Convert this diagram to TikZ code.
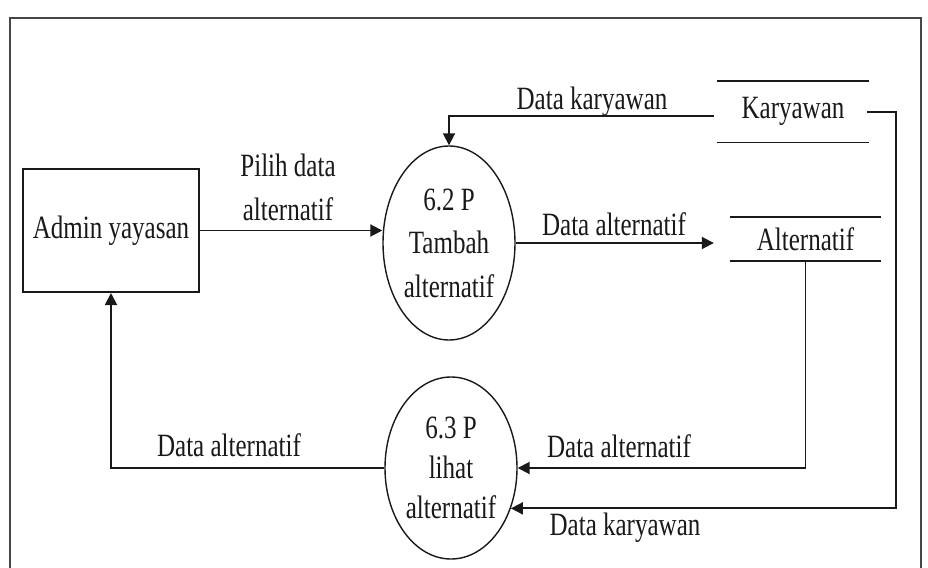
\documentclass[tikz,border=0pt]{standalone}
\usepackage{fontspec}
\setmainfont{Liberation Serif}[FakeStretch=0.77]
\usetikzlibrary{shapes.geometric,arrows.meta}
\definecolor{ink}{RGB}{25,25,25}
\definecolor{framegray}{RGB}{70,70,70}
\begin{document}
\begin{tikzpicture}[x=1pt,y=-1pt,
  txt/.style={font=\fontsize{32.5}{44}\selectfont, text=ink},
  lbl/.style={txt, align=center, inner sep=0pt},
  proc/.style={ellipse, draw=ink, line width=1.4pt, minimum width=132pt,
    inner sep=0pt, align=center, text=ink},
  entity/.style={rectangle, draw=ink, line width=2pt, minimum width=176pt,
    minimum height=123pt, txt},
  store/.style={inner sep=0pt, txt},
  storeline/.style={draw=ink, line width=1.9pt},
  flow/.style={draw=ink, line width=1.9pt, -{Triangle[length=12pt,width=12pt]}}
]
\useasboundingbox (0,0) rectangle (928,567);

% outer frame
\draw[line width=2pt, draw=framegray] (10,600) -- (10,18) -- (921,18) -- (921,600);

% external entity
\node[entity] (admin) at (111,230.5) {Admin yayasan};

% processes
\node[proc, minimum height=194pt, font=\fontsize{32.5}{43.5}\selectfont] (p62) at (449,243)
  {6.2 P\\Tambah\\alternatif};
\node[proc, minimum height=182pt, font=\fontsize{32.5}{40}\selectfont] (p63) at (451,468)
  {6.3 P\\lihat\\alternatif};

% data stores
\node[store, minimum width=152pt, minimum height=61pt] (ks) at (793,111.75) {Karyawan};
\draw[storeline] (ks.north west) -- (ks.north east);
\draw[storeline] (ks.south west) -- (ks.south east);

\node[store, minimum width=151pt, minimum height=44pt] (as) at (805.5,239) {Alternatif};
\draw[storeline] (as.north west) -- (as.north east);
\draw[storeline] (as.south west) -- (as.south east);

% data flows
\draw[flow] (admin.east) -- (admin.east -| p62.west);
\draw[flow] ([shift={(-3,4)}]ks.west) -| (p62.north);
\draw[flow] (p62.east) -- ([xshift=-16pt]as.west |- p62.east);
\draw[flow] (as.south) |- (p63.east);
\draw[flow] ([xshift=-2pt]ks.east) -- ++(29,0) |- (p63.-34);
\draw[flow] (p63.west) -| (admin.south);

% flow labels
\node[lbl] (lpilih) at (288,187.3) {Pilih data\\alternatif};
\node[lbl, anchor=base] (lkar1) at (592,109.5) {Data karyawan};
\node[lbl, anchor=base] (lalt1) at (614,235.8) {Data alternatif};
\node[lbl, anchor=base] (lalt2) at (229,456.7) {Data alternatif};
\node[lbl, anchor=base] (lalt3) at (619,457) {Data alternatif};
\node[lbl, anchor=base] (lkar2) at (625,535) {Data karyawan};
\end{tikzpicture}
\end{document}
